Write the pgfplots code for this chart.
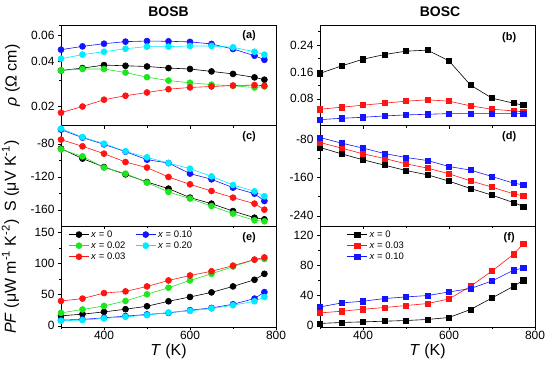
\documentclass[border=0pt]{standalone}
\usepackage{fontspec}
\setmainfont{Liberation Sans}
\usepackage{pgfplots}
\pgfplotsset{compat=1.18}
\definecolor{cblack}{RGB}{0,0,0}
\definecolor{cred}{RGB}{255,20,20}
\definecolor{cgreen}{RGB}{30,230,30}
\definecolor{cblue}{RGB}{20,20,255}
\definecolor{ccyan}{RGB}{0,235,255}
\tikzset{lab/.style={font=\bfseries\fontsize{11}{13}\selectfont}}
\pgfplotsset{
 base/.style={
  scale only axis, width=215bp, height=100.67bp,
  xmin=300, xmax=800, xtick={400,600,800}, minor xtick={300,500,700},
  tick align=outside, xtick pos=bottom, ytick pos=left,
  major tick length=3bp, minor tick length=2bp,
  tick style={black, line width=0.5bp},
  axis line style={line width=0.6bp},
  every tick label/.append style={font=\fontsize{12}{14}\selectfont},
  xticklabel style={yshift=2bp},
  /pgf/number format/assume math mode=true,
  label style={font=\fontsize{16}{19}\selectfont},
  ylabel style={at={(axis description cs:-0.225,0.5)}, anchor=center},
  xlabel style={at={(axis description cs:0.5,-0.245)}, anchor=center},
  clip=false,
  legend cell align=left,
  legend image code/.code={\draw[mark repeat=2,mark phase=2,##1] plot coordinates {(0bp,0bp)(10bp,0bp)(20bp,0bp)};},
 },
 noxl/.style={xticklabels={}},
 pc/.style={mark=*, mark size=3bp, line width=0.6bp, color=#1, mark options={fill=#1, draw=#1}},
 ps/.style={mark=square*, mark size=2.6bp, line width=0.6bp, color=#1, mark options={fill=#1, draw=#1}},
}
\begin{document}
\begin{tikzpicture}
\useasboundingbox (0,0) rectangle (550bp,370bp);
\node[font=\bfseries\fontsize{14}{16}\selectfont] at (168.5bp,358bp) {BOSB};
\node[font=\bfseries\fontsize{14}{16}\selectfont] at (440bp,358bp) {BOSC};

% (a)
\begin{axis}[base, noxl, at={(61bp,345bp)}, anchor=north west,
  ymode=log, ymin=0.0149, ymax=0.07, ytick={0.02,0.04,0.06}, yticklabels={0.02,0.04,0.06},
  minor ytick={0.03,0.05,0.07},
  ylabel={\textit{ρ} (Ω cm)}]
\addplot[pc=cblack] coordinates {(300,0.0348)(350,0.0361)(400,0.0378)(450,0.0374)(500,0.0370)(550,0.0361)(600,0.0356)(650,0.0343)(700,0.0330)(750,0.0313)(773,0.0302)};
\addplot[pc=cblue] coordinates {(300,0.0479)(350,0.0504)(400,0.0525)(450,0.0542)(500,0.0547)(550,0.0545)(600,0.0540)(650,0.0523)(700,0.0484)(750,0.0437)(773,0.0410)};
\addplot[pc=cgreen] coordinates {(300,0.0348)(350,0.0356)(400,0.0356)(450,0.0337)(500,0.0314)(550,0.0298)(600,0.0288)(650,0.0280)(700,0.0275)(750,0.0268)(773,0.0272)};
\addplot[pc=ccyan] coordinates {(300,0.0417)(350,0.0444)(400,0.0464)(450,0.0486)(500,0.0502)(550,0.0502)(600,0.0507)(650,0.0507)(700,0.0497)(750,0.0464)(773,0.0444)};
\addplot[pc=cred] coordinates {(300,0.0182)(350,0.0200)(400,0.0222)(450,0.0236)(500,0.0248)(550,0.0261)(600,0.0268)(650,0.0272)(700,0.0276)(750,0.0278)(773,0.0275)};
\node[lab] at (axis description cs:0.875,0.89) {(a)};
\end{axis}

% (c)
\begin{axis}[base, noxl, at={(61bp,244.33bp)}, anchor=north west,
  ymin=-180, ymax=-58, ytick={-160,-120,-80}, yticklabels={-160,-120,-80},
  minor ytick={-140,-100,-60},
  ylabel={S (μV K\textsuperscript{-1})}, ylabel style={at={(axis description cs:-0.235,0.5)}}]
\addplot[pc=cblack] coordinates {(300,-85.8)(350,-97.9)(400,-108.1)(450,-117.0)(500,-126.3)(550,-134.3)(600,-145.2)(650,-152.5)(700,-161.5)(750,-169.5)(773,-171.5)};
\addplot[pc=cblue] coordinates {(300,-62.8)(350,-72.5)(400,-80.6)(450,-89.5)(500,-99.2)(550,-103.3)(600,-116.1)(650,-123.0)(700,-133.1)(750,-140.4)(773,-149.3)};
\addplot[pc=cgreen] coordinates {(300,-86.7)(350,-95.2)(400,-108.8)(450,-116.1)(500,-127.0)(550,-138.4)(600,-146.4)(650,-155.4)(700,-164.6)(750,-172.7)(773,-173.9)};
\addplot[pc=ccyan] coordinates {(300,-61.6)(350,-71.8)(400,-79.8)(450,-89.1)(500,-96.4)(550,-103.3)(600,-110.1)(650,-119.4)(700,-129.9)(750,-137.6)(773,-143.6)};
\addplot[pc=cred] coordinates {(300,-74.9)(350,-83.0)(400,-91.9)(450,-102.1)(500,-108.8)(550,-120.2)(600,-129.1)(650,-137.2)(700,-145.2)(750,-152.5)(773,-159.8)};
\node[lab] at (axis description cs:0.875,0.89) {(c)};
\end{axis}

% (e)
\begin{axis}[base, at={(61bp,143.67bp)}, anchor=north west,
  ymin=-2, ymax=160, ytick={0,50,100,150}, yticklabels={0,50,100,150},
  minor ytick={25,75,125},
  xticklabels={400,600,800},
  ylabel={\textit{PF} (μW m\textsuperscript{-1} K\textsuperscript{-2})}, ylabel style={at={(axis description cs:-0.235,0.5)}},
  xlabel={\textit{T} (K)},
  legend style={at={(axis description cs:0.03,0.99)}, anchor=north west, draw=none, fill=none,
    font=\fontsize{9.5}{11}\selectfont, inner sep=1bp, row sep=-1bp,
    /tikz/every even column/.append style={column sep=8bp}},
  legend columns=2]
\addplot[pc=cblack] coordinates {(300,15.9)(350,18.7)(400,22.3)(450,26.6)(500,31.4)(550,39.4)(600,46.3)(650,53.7)(700,63.3)(750,74.0)(773,83.6)};
\addlegendentry{\textit{x} = 0}
\addplot[pc=cblue] coordinates {(300,9.1)(350,10.2)(400,12.8)(450,15.5)(500,18.2)(550,20.7)(600,25.0)(650,28.7)(700,34.6)(750,43.7)(773,54.2)};
\addlegendentry{\textit{x} = 0.10}
\addplot[pc=cgreen] coordinates {(300,20.7)(350,26.2)(400,31.9)(450,39.9)(500,50.6)(550,61.2)(600,72.9)(650,83.6)(700,95.2)(750,106.4)(773,107.5)};
\addlegendentry{\textit{x} = 0.02}
\addplot[pc=ccyan] coordinates {(300,8.0)(350,9.1)(400,11.8)(450,14.4)(500,17.1)(550,21.4)(600,23.9)(650,27.8)(700,33.0)(750,39.4)(773,46.3)};
\addlegendentry{\textit{x} = 0.20}
\addplot[pc=cred] coordinates {(300,39.9)(350,43.7)(400,52.6)(450,55.3)(500,63.3)(550,72.9)(600,80.9)(650,87.7)(700,96.8)(750,106.4)(773,110.0)};
\addlegendentry{\textit{x} = 0.03}
\node[lab] at (axis description cs:0.875,0.89) {(e)};
\end{axis}

% (b)
\begin{axis}[base, noxl, at={(320bp,345bp)}, anchor=north west,
  ymin=0, ymax=0.30, ytick={0.08,0.16,0.24}, yticklabels={0.08,0.16,0.24},
  minor ytick={0.04,0.12,0.20,0.28}]
\addplot[ps=cblack] coordinates {(300,0.156)(350,0.178)(400,0.198)(450,0.212)(500,0.222)(550,0.225)(600,0.193)(650,0.121)(700,0.082)(750,0.067)(773,0.061)};
\addplot[ps=cred] coordinates {(300,0.049)(350,0.055)(400,0.061)(450,0.067)(500,0.073)(550,0.077)(600,0.073)(650,0.059)(700,0.049)(750,0.044)(773,0.041)};
\addplot[ps=cblue] coordinates {(300,0.018)(350,0.022)(400,0.025)(450,0.029)(500,0.032)(550,0.034)(600,0.036)(650,0.036)(700,0.036)(750,0.036)(773,0.036)};
\node[lab] at (axis description cs:0.88,0.876) {(b)};
\end{axis}

% (d)
\begin{axis}[base, noxl, at={(320bp,244.33bp)}, anchor=north west,
  ymin=-262, ymax=-52, ytick={-240,-160,-80}, yticklabels={-240,-160,-80},
  minor ytick={-200,-120}]
\addplot[ps=cblack] coordinates {(300,-97.5)(350,-110.7)(400,-123.2)(450,-134.3)(500,-145.6)(550,-154.5)(600,-167.7)(650,-183.1)(700,-196.9)(750,-212.4)(773,-220.7)};
\addplot[ps=cred] coordinates {(300,-87.1)(350,-98.8)(400,-110.7)(450,-120.5)(500,-131.6)(550,-140.5)(600,-152.4)(650,-167.1)(700,-180.2)(750,-194.2)(773,-198.4)};
\addplot[ps=cblue] coordinates {(300,-76.7)(350,-88.4)(400,-98.8)(450,-110.1)(500,-118.4)(550,-124.7)(600,-137.2)(650,-144.7)(700,-158.1)(750,-171.9)(773,-175.4)};
\node[lab] at (axis description cs:0.88,0.89) {(d)};
\end{axis}

% (f)
\begin{axis}[base, at={(320bp,143.67bp)}, anchor=north west,
  ymin=-1.5, ymax=132, ytick={0,40,80,120}, yticklabels={0,40,80,120},
  minor ytick={20,60,100},
  xticklabels={400,600,800},
  xlabel={\textit{T} (K)},
  legend style={at={(axis description cs:0.12,0.99)}, anchor=north west, draw=none, fill=none,
    font=\fontsize{9.5}{11}\selectfont, inner sep=1bp, row sep=-1bp},
  legend columns=1]
\addplot[ps=cblack] coordinates {(300,3.2)(350,4.5)(400,5.3)(450,6.2)(500,7.1)(550,8.5)(600,11.1)(650,21.7)(700,37.0)(750,52.5)(773,60.4)};
\addlegendentry{\textit{x} = 0}
\addplot[ps=cred] coordinates {(300,17.2)(350,19.4)(400,22.1)(450,24.3)(500,27.0)(550,29.6)(600,35.7)(650,52.5)(700,72.8)(750,94.8)(773,109.0)};
\addlegendentry{\textit{x} = 0.03}
\addplot[ps=cblue] coordinates {(300,25.1)(350,30.4)(400,32.7)(450,36.2)(500,38.4)(550,40.2)(600,45.0)(650,49.5)(700,59.5)(750,73.7)(773,76.7)};
\addlegendentry{\textit{x} = 0.10}
\node[lab] at (axis description cs:0.88,0.89) {(f)};
\end{axis}
\end{tikzpicture}
\end{document}
